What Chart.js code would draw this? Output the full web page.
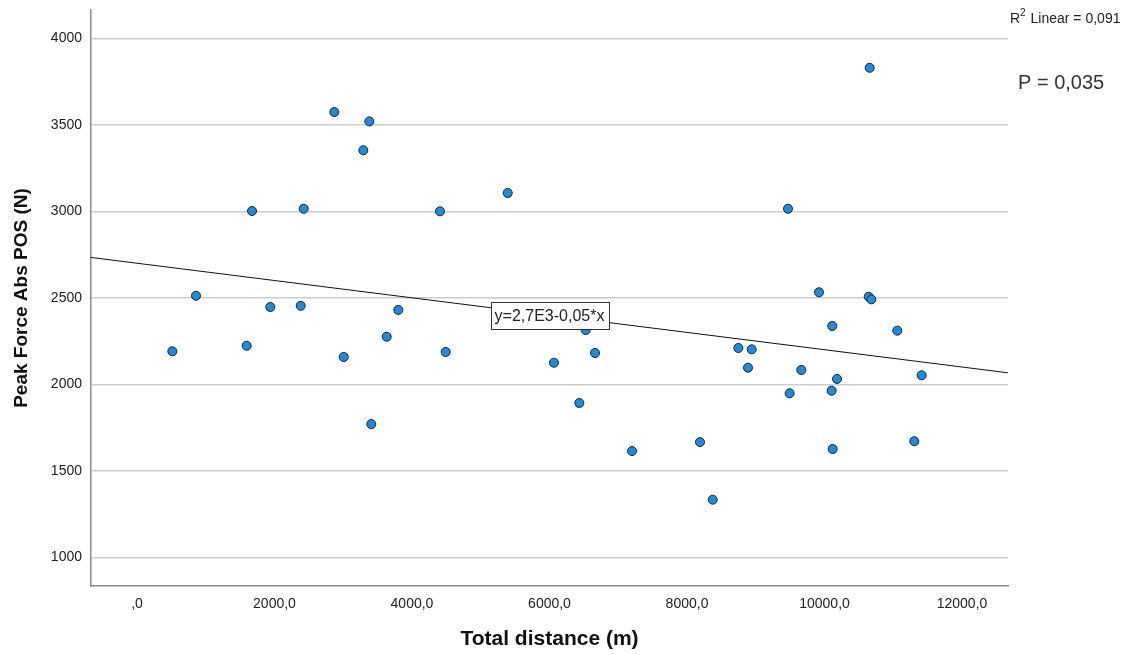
<!DOCTYPE html>
<html>
<head>
<meta charset="utf-8">
<script src="https://cdn.jsdelivr.net/npm/chart.js@4.4.1/dist/chart.umd.min.js"></script>
<style>
  html, body { margin: 0; padding: 0; background: #fff; }
  #wrap { width: 1130px; height: 655px; position: relative; }
</style>
</head>
<body>
<div id="wrap"><canvas id="scatter"></canvas></div>
<script>
// total distance (m) per athlete
const distance = [
  514, 858, 1595, 1673, 1939, 2381, 2425, 2870, 3006, 3292,
  3379, 3408, 3632, 3801, 4407, 4490, 5392, 6065, 6434, 6526,
  6662, 7200, 8189, 8374, 8747, 8887, 8941, 9469, 9493, 9663,
  9920, 10104, 10113, 10119, 10182, 10643, 10657, 10681, 11059, 11306,
  11413
];
// peak force abs POS (N), same order as distance
const peakForce = [
  2191, 2512, 2223, 3002, 2447, 2454, 3015, 3574, 2158, 3353,
  3520, 1770, 2275, 2430, 3000, 2187, 3106, 2125, 1892, 2314,
  2181, 1614, 1666, 1333, 2210, 2096, 2202, 3015, 1948, 2083,
  2532, 1963, 2337, 1626, 2031, 2506, 3830, 2491, 2310, 1671,
  2052
];

const xTicks = [0, 2000, 4000, 6000, 8000, 10000, 12000];
const yTicks = [1000, 1500, 2000, 2500, 3000, 3500, 4000];

// linear fit as reported: y = 2,7E3 - 0,05*x
const fitIntercept = 2700;
const fitSlope = -0.05;
const fitLabel = "y=2,7E3-0,05*x";
const fitLabelAt = 6000;
const rSquaredText = "0,091";
const pText = "P = 0,035";

const xMin = -669, xMax = 12669;
const yMin = 834, yMax = 4164;

const FONT = "'Liberation Sans', Arial, sans-serif";

const points = distance.map((d, i) => ({ x: d, y: peakForce[i] }));
const fitLine = [xMin, xMax].map(x => ({ x: x, y: fitIntercept + fitSlope * x }));

const notes = {
  id: "notes",
  afterDatasetsDraw(chart) {
    const ctx = chart.ctx;
    const xs = chart.scales.x, ys = chart.scales.y;
    ctx.save();

    // equation box sitting on the fit line
    const cx = xs.getPixelForValue(fitLabelAt);
    const cy = ys.getPixelForValue(fitIntercept + fitSlope * fitLabelAt);
    ctx.font = "16px " + FONT;
    const w = Math.round(ctx.measureText(fitLabel).width + 8);
    const h = 27;
    const bx = Math.round(cx - w / 2) + 0.5, by = Math.round(cy - h / 2) + 0.5;
    ctx.fillStyle = "#fff";
    ctx.fillRect(bx, by, w, h);
    ctx.strokeStyle = "#333";
    ctx.lineWidth = 1;
    ctx.strokeRect(bx, by, w, h);
    ctx.fillStyle = "#222";
    ctx.textAlign = "center";
    ctx.textBaseline = "middle";
    ctx.fillText(fitLabel, cx, cy + 1);

    // R² and p-value beside the plot
    ctx.textAlign = "left";
    ctx.textBaseline = "alphabetic";
    let x = 1010;
    ctx.font = "14px " + FONT;
    ctx.fillText("R", x, 23);
    x += ctx.measureText("R").width;
    ctx.font = "10px " + FONT;
    ctx.fillText("2", x, 16);
    x += ctx.measureText("2").width + 1;
    ctx.font = "14px " + FONT;
    ctx.fillText(" Linear = " + rSquaredText, x, 23);

    ctx.font = "20px " + FONT;
    ctx.fillStyle = "#333";
    ctx.fillText(pText, 1018, 89);
    ctx.restore();
  }
};

new Chart(document.getElementById("scatter"), {
  type: "scatter",
  data: {
    datasets: [
      {
        data: points,
        pointRadius: 4.5,
        pointHoverRadius: 4.5,
        pointBackgroundColor: "#1b8ce0",
        pointBorderColor: "#222",
        pointBorderWidth: 1
      },
      {
        type: "line",
        data: fitLine,
        borderColor: "#111",
        borderWidth: 1,
        pointRadius: 0,
        fill: false
      }
    ]
  },
  options: {
    responsive: true,
    maintainAspectRatio: false,
    animation: false,
    layout: { padding: { left: 0, top: 10, right: 122, bottom: 0 } },
    plugins: { legend: { display: false }, tooltip: { enabled: false } },
    scales: {
      x: {
        type: "linear",
        min: xMin,
        max: xMax,
        grid: { display: false, drawTicks: false },
        border: { display: true, color: "#8a8a8a", width: 1.5 },
        ticks: {
          padding: 10,
          color: "#222",
          font: { family: FONT, size: 14 },
          maxRotation: 0,
          autoSkip: false,
          callback: v => v.toFixed(1).replace(".", ",").replace(/^0,/, ",")
        },
        afterBuildTicks: s => { s.ticks = xTicks.map(v => ({ value: v })); },
        title: {
          display: true,
          text: "Total distance (m)",
          color: "#111",
          font: { family: FONT, size: 21, weight: "bold" },
          padding: { top: 0, bottom: 3 }
        },
        afterFit: s => { s.height = 69; s.paddingLeft = 0; s.paddingRight = 0; }
      },
      y: {
        type: "linear",
        min: yMin,
        max: yMax,
        grid: { color: "#cccccc", lineWidth: 1.5, drawTicks: false },
        border: { display: true, color: "#8a8a8a", width: 1.5 },
        ticks: {
          padding: 9,
          color: "#222",
          font: { family: FONT, size: 14 },
          autoSkip: false,
          callback: v => String(v)
        },
        afterBuildTicks: s => { s.ticks = yTicks.map(v => ({ value: v })); },
        title: {
          display: true,
          text: "Peak Force Abs POS (N)",
          color: "#111",
          font: { family: FONT, size: 19, weight: "bold" },
          padding: { top: 10, bottom: 0 }
        },
        afterFit: s => { s.width = 91; s.paddingTop = 0; s.paddingBottom = 0; }
      }
    }
  },
  plugins: [notes]
});
</script>
</body>
</html>
